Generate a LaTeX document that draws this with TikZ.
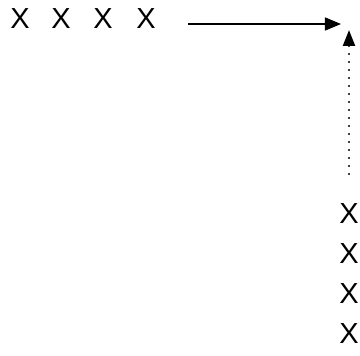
\documentclass[tikz,border=0pt]{standalone}
\usepackage{fontspec}
\setmainfont{Liberation Sans}
\usetikzlibrary{arrows.meta}
\begin{document}
\begin{tikzpicture}[x=1pt,y=-1pt,
  lbl/.style={font=\fontsize{29}{29}\selectfont, inner sep=0pt, anchor=center},
  conn/.style={line width=1.5pt, -{Triangle[length=16pt,width=13pt]}},
  dotconn/.style={line width=2.2pt, line cap=round, dash pattern=on 0pt off 8pt, -{Triangle[length=16pt,width=12pt]}}]
\useasboundingbox (0,0) rectangle (360,356);
\node[lbl] (h1) at (20,19) {X};
\node[lbl] (h2) at (61,19) {X};
\node[lbl] (h3) at (103,19) {X};
\node[lbl] (h4) at (146,19) {X};
\node[lbl] (v1) at (349,214) {X};
\node[lbl] (v2) at (349,254) {X};
\node[lbl] (v3) at (349,294) {X};
\node[lbl] (v4) at (349,334) {X};
\coordinate (hs) at (188,24);
\coordinate (he) at (341,24);
\coordinate (vs) at (349,174);
\coordinate (ve) at (349,30);
\draw[conn] (hs) -- (he);
\draw[dotconn] (vs) -- (ve);
\end{tikzpicture}
\end{document}
